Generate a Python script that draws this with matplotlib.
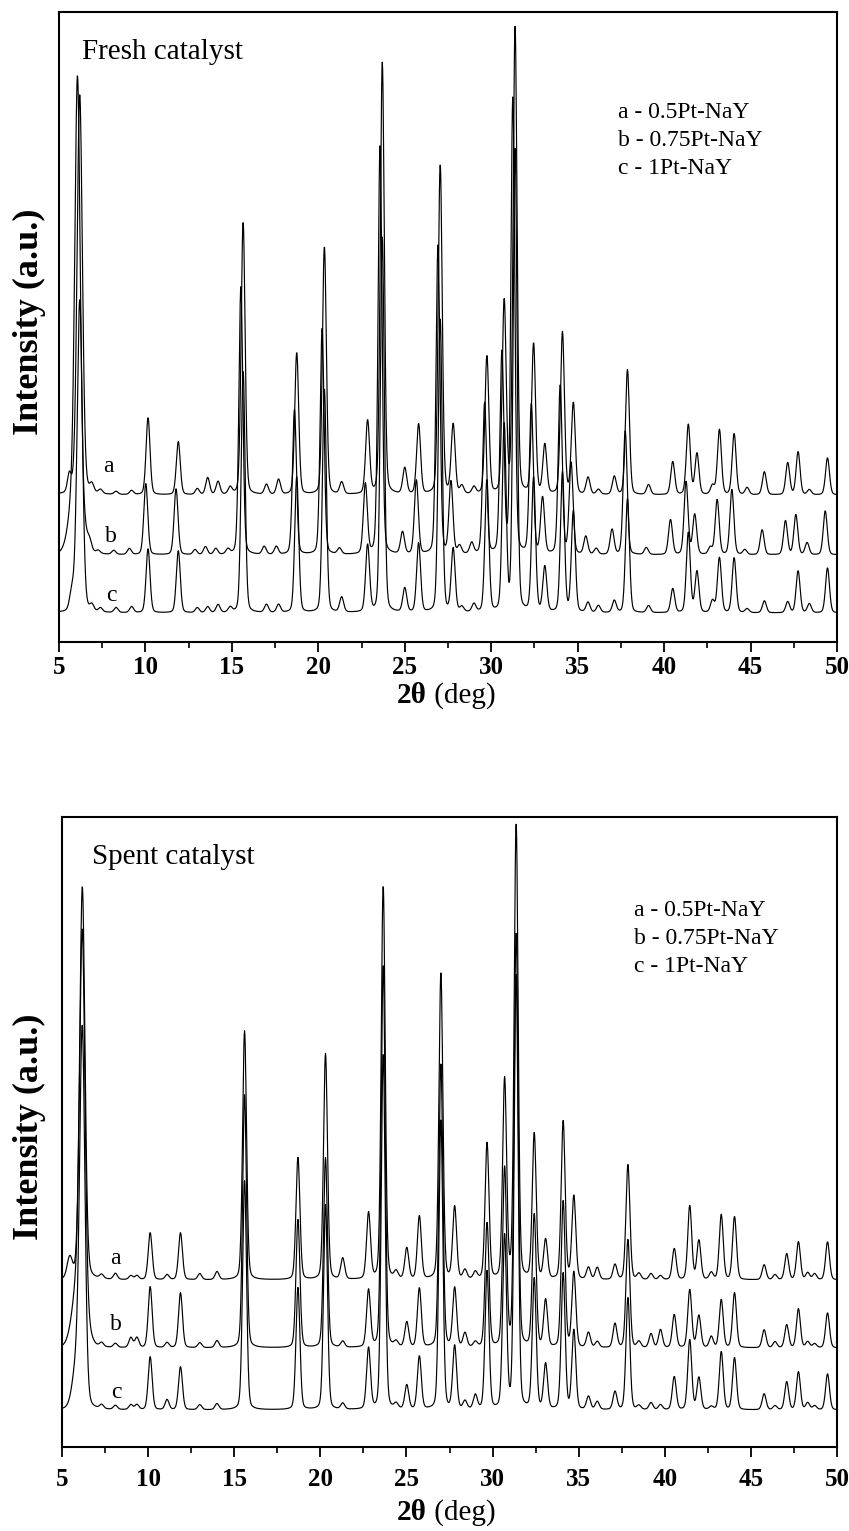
import numpy as np
import matplotlib
matplotlib.use('Agg')
import matplotlib.pyplot as plt
from matplotlib.ticker import MultipleLocator

plt.rcParams['font.family'] = ['Liberation Serif', 'DejaVu Serif']

# ---------------- data ----------------
SERIES = ['a', 'b', 'c']
LEGEND = ['a - 0.5Pt-NaY', 'b - 0.75Pt-NaY', 'c - 1Pt-NaY']

# Fresh catalyst: peak positions (2theta, deg) and heights (a.u.)
FRESH_POS = [6.2, 6.9, 7.4, 8.3, 9.2, 10.15, 11.9, 13.0, 13.6, 14.2, 14.9, 15.65, 17.0,
             17.7, 18.75, 20.35, 21.35, 22.85, 23.7, 25.0, 25.8, 27.05, 27.8, 28.3, 29.0,
             29.75, 30.75, 31.38, 32.45, 33.1, 34.12, 34.75, 35.6, 36.2, 37.12, 37.88,
             39.1, 40.5, 41.4, 41.9, 42.8, 43.2, 44.05, 44.8, 45.8, 47.15, 47.75, 48.4,
             49.45]
FRESH_A = [400, 8, 4, 3, 4, 77, 53, 6, 17, 13, 7, 273, 10, 15, 142, 248, 12, 73, 432,
           26, 70, 330, 69, 8, 7, 138, 192, 466, 150, 49, 162, 91, 17, 5, 18, 125, 10,
           33, 70, 41, 9, 65, 61, 7, 23, 32, 43, 5, 37]
FRESH_B = [411, 8, 3, 4, 6, 71, 66, 5, 8, 6, 5, 268, 8, 8, 145, 226, 6, 70, 410, 22,
           74, 309, 72, 8, 11, 151, 200, 457, 149, 56, 169, 91, 18, 6, 25, 124, 7, 35,
           73, 40, 7, 55, 65, 5, 25, 34, 40, 12, 44]
FRESH_C = [313, 6, 4, 5, 6, 64, 62, 5, 6, 8, 5, 242, 8, 8, 136, 224, 15, 67, 375, 24,
           69, 294, 63, 5, 8, 132, 186, 462, 134, 45, 140, 101, 10, 7, 12, 114, 7, 24,
           80, 41, 12, 55, 55, 4, 12, 11, 42, 9, 45]
FRESH_SHIFT = [0.0, -0.13, 0.0]
# low-angle shoulders (position, height, width) per series
FRESH_SHOULDER = [(5.6, 17, 0.25), (6.0, 70, 0.8), (5.75, 18, 0.3)]

# Spent catalyst
SPENT_POS = [6.18, 7.3, 8.1, 9.0, 9.35, 10.12, 11.1, 11.88, 13.0, 14.0, 15.6, 18.7,
             20.3, 21.3, 22.8, 23.65, 24.4, 25.02, 25.75, 27.0, 27.8, 28.4, 29.0, 29.68,
             30.7, 31.37, 32.42, 33.08, 34.1, 34.72, 35.57, 36.08, 37.11, 37.86, 38.5,
             39.2, 39.75, 40.55, 41.45, 41.98, 42.7, 43.28, 44.05, 45.77, 46.4, 47.08,
             47.76, 48.3, 48.7, 49.45]
SPENT_A = [393, 4, 6, 4, 4, 47, 5, 47, 6, 8, 249, 122, 226, 21, 66, 394, 7, 31, 63,
           306, 72, 9, 7, 136, 199, 455, 145, 39, 158, 83, 12, 12, 15, 115, 6, 6, 4, 31,
           74, 39, 7, 65, 63, 15, 5, 26, 38, 7, 6, 38]
SPENT_B = [358, 4, 4, 10, 10, 61, 5, 55, 5, 7, 253, 128, 190, 6, 57, 383, 5, 25, 59,
           283, 59, 14, 5, 124, 178, 414, 132, 47, 146, 75, 15, 6, 24, 108, 6, 14, 18,
           33, 58, 32, 11, 48, 55, 18, 6, 23, 39, 6, 4, 35]
SPENT_C = [360, 4, 4, 5, 5, 53, 10, 43, 5, 6, 229, 122, 205, 6, 61, 356, 5, 24, 53,
           289, 63, 8, 14, 138, 172, 435, 130, 45, 136, 79, 13, 8, 18, 112, 4, 7, 5, 33,
           70, 32, 3, 58, 52, 16, 4, 28, 38, 7, 4, 36]
SPENT_SHIFT = [0.0, 0.0, 0.0]
SPENT_SHOULDER = [(5.45, 20, 0.35), (6.0, 70, 0.8), (5.9, 45, 0.6)]

# vertical offsets of the three patterns
FRESH_OFFSET = [147, 87, 29]
SPENT_OFFSET = [167, 99, 37]

# ---------------- helpers ----------------
def pattern(x, pos, hts, shift, shoulder, fwhm=0.27, eta=0.2):
    y = np.zeros_like(x)
    for p, h in zip(pos, hts):
        w = 0.36 if p < 6.5 else fwhm
        d = (x - (p + shift)) / w
        y += h * (eta / (1 + 4 * d ** 2) + (1 - eta) * np.exp(-4 * np.log(2) * d ** 2))
    sp, sh, sw = shoulder
    y += sh * np.exp(-4 * np.log(2) * ((x - sp) / sw) ** 2)
    return y

W, H = 849, 1531
fig = plt.figure(figsize=(W / 100, H / 100), dpi=100)

def fx(px):
    return px / W

def fy(py):
    return 1 - py / H

x = np.arange(5.0, 50.0001, 0.02)

panels = [
    dict(box=(59, 12, 837, 642), pos=FRESH_POS, hts=[FRESH_A, FRESH_B, FRESH_C],
         shift=FRESH_SHIFT, shoulder=FRESH_SHOULDER, off=FRESH_OFFSET,
         title='Fresh catalyst', title_xy=(82, 52),
         leg_xy=(618, [113, 141, 168]),
         lab_xy=[(108, 467), (111, 537), (111, 596)],
         pad=3, xl_y=696),
    dict(box=(62, 817, 837, 1447), pos=SPENT_POS, hts=[SPENT_A, SPENT_B, SPENT_C],
         shift=SPENT_SHIFT, shoulder=SPENT_SHOULDER, off=SPENT_OFFSET,
         title='Spent catalyst', title_xy=(92, 857),
         leg_xy=(634, [911, 939, 967]),
         lab_xy=[(115, 1258), (116, 1325), (116, 1392)],
         pad=8, xl_y=1513),
]

for P in panels:
    l, t, r, b = P['box']
    ax = fig.add_axes([fx(l), fy(b), (r - l) / W, (b - t) / H])
    for i in range(3):
        y = pattern(x, P['pos'], P['hts'][i], P['shift'][i], P['shoulder'][i]) + P['off'][i]
        ax.plot(x, y, color='black', lw=0.85)
    ax.set_xlim(5, 50)
    ax.set_ylim(0, 630)
    ax.set_yticks([])
    ax.xaxis.set_major_locator(MultipleLocator(5))
    ax.xaxis.set_minor_locator(MultipleLocator(2.5))
    ax.tick_params(axis='x', which='major', direction='out', length=7, width=1.3,
                   pad=P['pad'], labelsize=18)
    ax.tick_params(axis='x', which='minor', direction='out', length=4, width=1.2)
    for lab in ax.get_xticklabels():
        lab.set_fontweight('bold')
    for s in ax.spines.values():
        s.set_linewidth(1.5)

    fig.text(fx(P['title_xy'][0]), fy(P['title_xy'][1]), P['title'], fontsize=21,
             ha='left', va='center')
    lx, lys = P['leg_xy']
    for txt, ly in zip(LEGEND, lys):
        fig.text(fx(lx), fy(ly), txt, fontsize=17, ha='left', va='center')
    for s, (sx, sy) in zip(SERIES, P['lab_xy']):
        fig.text(fx(sx), fy(sy), s, fontsize=17, ha='center', va='center')

    # y label
    fig.text(fx(29), fy((t + b) / 2 - 5), 'Intensity (a.u.)', fontsize=26,
             fontweight='bold', rotation=90, ha='center', va='center')
    # x label: bold "2θ" + regular "(deg)"
    xl_y = P['xl_y']
    fig.text(fx(427), fy(xl_y), '2θ', fontsize=21, fontweight='bold', ha='right', va='center')
    fig.text(fx(427), fy(xl_y), ' (deg)', fontsize=21, ha='left', va='center')

fig.savefig('out.png', dpi=100)
